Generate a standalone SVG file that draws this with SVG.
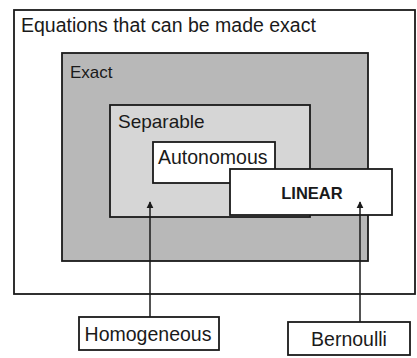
<svg xmlns="http://www.w3.org/2000/svg" width="417" height="358" viewBox="0 0 417 358">
<style>
.box{stroke:#1a1a1a;stroke-width:1.8}
.t{font-family:"Liberation Sans",Arial,sans-serif;fill:#1a1a1a}
.c{stroke:#1a1a1a;stroke-width:1.5;fill:none}
</style>
<defs>
<marker id="ah" viewBox="0 0 10 10" refX="9" refY="5" markerWidth="7" markerHeight="9" orient="auto" markerUnits="userSpaceOnUse">
<path d="M0,0 L10,5 L0,10 Z" fill="#1a1a1a"/>
</marker>
</defs>
<rect width="417" height="358" fill="#ffffff"/>
<g id="made-exact">
<rect class="box" x="14" y="10" width="401" height="284" fill="#ffffff"/>
<text class="t" x="21" y="32" font-size="19.5">Equations that can be made exact</text>
</g>
<g id="exact">
<rect class="box" x="62" y="53" width="306" height="208" fill="#b8b8b8"/>
<text class="t" x="70" y="78" font-size="17">Exact</text>
</g>
<g id="separable">
<rect class="box" x="110" y="105" width="200" height="112" fill="#d6d6d6"/>
<text class="t" x="118" y="128" font-size="19">Separable</text>
</g>
<g id="autonomous">
<rect class="box" x="153" y="142" width="122" height="41" fill="#ffffff"/>
<text class="t" x="158" y="164" font-size="19.5">Autonomous</text>
</g>
<g id="linear">
<rect class="box" x="230" y="169" width="162" height="46" fill="#ffffff"/>
<text class="t" x="312" y="199" font-size="16.5" font-weight="bold" text-anchor="middle">LINEAR</text>
</g>
<g id="connectors">
<line class="c" x1="150" y1="317" x2="150" y2="202" marker-end="url(#ah)"/>
<line class="c" x1="360" y1="322" x2="360" y2="202" marker-end="url(#ah)"/>
</g>
<g id="homogeneous">
<rect class="box" x="79" y="317" width="140" height="33" fill="#ffffff"/>
<text class="t" x="148" y="341" font-size="19.5" text-anchor="middle">Homogeneous</text>
</g>
<g id="bernoulli">
<rect class="box" x="288" y="322" width="122" height="33" fill="#ffffff"/>
<text class="t" x="349" y="346" font-size="19.5" text-anchor="middle">Bernoulli</text>
</g>
</svg>
